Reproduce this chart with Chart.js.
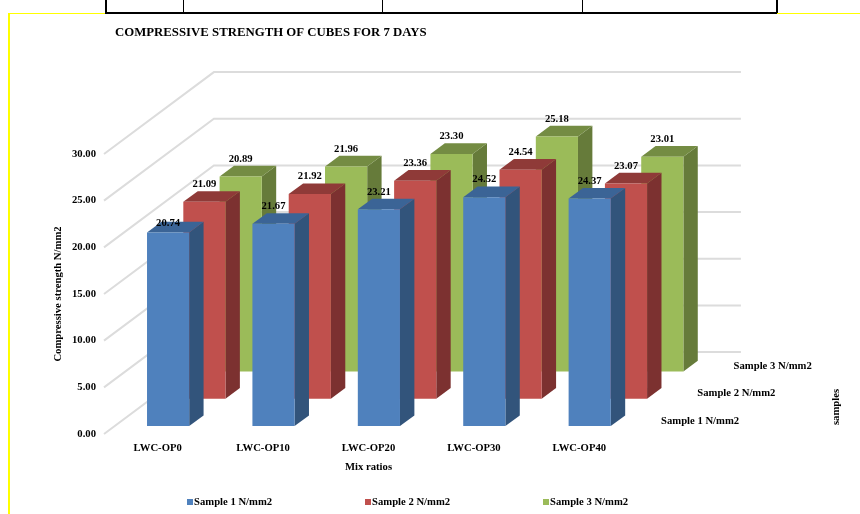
<!DOCTYPE html>
<html>
<head>
<meta charset="utf-8">
<title>Compressive strength of cubes</title>
<script src="https://cdn.jsdelivr.net/npm/chart.js@4"></script>
<style>
  body { margin: 0; background: #fff; width: 860px; height: 514px; overflow: hidden; position: relative; }
  canvas { position: absolute; left: 0; top: 0; }
  .rule { position: absolute; }
  .yellow { background: #ffff00; }
  .black { background: #000; }
</style>
</head>
<body>
<!-- page frame and the foot of the table above the chart -->
<div class="rule yellow" style="left:8px;top:13px;width:2px;height:501px"></div>
<div class="rule yellow" style="left:8px;top:13px;width:852px;height:1px"></div>
<div class="rule black" style="left:105px;top:12px;width:672px;height:2px"></div>
<div class="rule black" style="left:105px;top:0;width:2px;height:13px"></div>
<div class="rule black" style="left:183px;top:0;width:1px;height:13px"></div>
<div class="rule black" style="left:382px;top:0;width:1px;height:13px"></div>
<div class="rule black" style="left:582px;top:0;width:1px;height:13px"></div>
<div class="rule black" style="left:776px;top:0;width:2px;height:13px"></div>
<canvas id="strengthChart" width="860" height="514"></canvas>
<script>
// --- Data ---
const mixRatios = ['LWC-OP0', 'LWC-OP10', 'LWC-OP20', 'LWC-OP30', 'LWC-OP40'];
const sampleNames = ['Sample 1 N/mm2', 'Sample 2 N/mm2', 'Sample 3 N/mm2'];
const sample1 = [20.74, 21.67, 23.21, 24.52, 24.37];
const sample2 = [21.09, 21.92, 23.36, 24.54, 23.07];
const sample3 = [20.89, 21.96, 23.30, 25.18, 23.01];

const frontColors = ['#4F81BD', '#C0504D', '#9BBB59'];
const topColors = ['#3B6496', '#8F3A38', '#748C43'];
const sideColors = ['#32547B', '#7C3130', '#667B3A'];

// --- Depth projection ---
const ROW_DX = 36.3;
const ROW_DY = -27.3;
const ROWS = 3;
const FIRST_ROW_DX = 10.4;
const FIRST_ROW_DY = -8;
const BAR_DX = 14.4;
const BAR_DY = -10.6;
const FONT = '"Liberation Serif", "Times New Roman", serif';
const TEXT_SIZE = 10.67;

function rowOffset(row) {
    return { dx: FIRST_ROW_DX + ROW_DX * row, dy: FIRST_ROW_DY + ROW_DY * row };
}

function fillFace(ctx, color, points) {
    ctx.fillStyle = color;
    ctx.beginPath();
    points.forEach((p, i) => i ? ctx.lineTo(p[0], p[1]) : ctx.moveTo(p[0], p[1]));
    ctx.closePath();
    ctx.fill();
}

// Bars pushed back into their own row, with a side and top face added
class Bar3dController extends Chart.BarController {
    draw() {
        const ctx = this.chart.ctx;
        const off = rowOffset(this.index);
        ctx.save();
        ctx.translate(off.dx, off.dy);
        this.getMeta().data.forEach(bar => {
            const { x, y, base, width } = bar.getProps(['x', 'y', 'base', 'width'], true);
            const right = x + width / 2;
            const left = x - width / 2;
            fillFace(ctx, sideColors[this.index], [
                [right, y], [right + BAR_DX, y + BAR_DY],
                [right + BAR_DX, base + BAR_DY], [right, base]
            ]);
            fillFace(ctx, topColors[this.index], [
                [left, y], [left + BAR_DX, y + BAR_DY],
                [right + BAR_DX, y + BAR_DY], [right, y]
            ]);
        });
        super.draw();
        ctx.restore();
    }
}
Bar3dController.id = 'bar3d';
Bar3dController.defaults = Chart.BarController.defaults;
Bar3dController.overrides = Chart.BarController.overrides;
Chart.register(Bar3dController);

function drawText(ctx, text, x, y, size, align, angle) {
    ctx.save();
    ctx.translate(x, y);
    if (angle) ctx.rotate(angle);
    ctx.font = 'bold ' + size + 'px ' + FONT;
    ctx.fillStyle = '#000';
    ctx.textAlign = align || 'center';
    ctx.textBaseline = 'middle';
    ctx.fillText(text, 0, 0);
    ctx.restore();
}

// --- Walls, behind the bars ---
const wallPlugin = {
    id: 'walls',
    beforeDatasetsDraw(chart) {
        const { ctx, chartArea, scales } = chart;
        const depthX = ROW_DX * ROWS;
        const depthY = ROW_DY * ROWS;
        ctx.save();
        ctx.strokeStyle = '#DCDCDC';
        ctx.lineWidth = 2;
        scales.y.ticks.forEach(tick => {
            const y = scales.y.getPixelForValue(tick.value);
            ctx.beginPath();
            ctx.moveTo(chartArea.left - 1, y);
            ctx.lineTo(chartArea.left + depthX, y + depthY);
            ctx.lineTo(chartArea.right + depthX, y + depthY);
            ctx.stroke();
        });
        ctx.restore();
    }
};

// --- Value labels, depth axis, legend and the remaining titles ---
const labelPlugin = {
    id: 'labels',
    afterDatasetsDraw(chart) {
        const { ctx, chartArea, scales } = chart;
        chart.data.datasets.forEach((ds, row) => {
            const off = rowOffset(row);
            chart.getDatasetMeta(row).data.forEach((bar, i) => {
                // the first front label sits lower than the others, on the bar's top face
                const lift = (row === 0 && i === 0) ? 9 : 17.5;
                drawText(ctx, ds.data[i].toFixed(2), bar.x + off.dx, bar.y + off.dy - lift, TEXT_SIZE);
            });
            drawText(ctx, ds.label, chartArea.right + 29 + ROW_DX * row, scales.y.bottom - 13 + ROW_DY * row, TEXT_SIZE, 'left');
            ctx.fillStyle = frontColors[row];
            ctx.fillRect(187 + 178 * row, 499, 6, 6);
            drawText(ctx, ds.label, 194 + 178 * row, 502, TEXT_SIZE, 'left');
        });
        drawText(ctx, 'COMPRESSIVE STRENGTH OF CUBES FOR 7 DAYS', 115, 33, 12.8, 'left');
        drawText(ctx, 'samples', 836, 407, TEXT_SIZE, 'center', -Math.PI / 2);
    }
};

const tickFont = { family: FONT, size: TEXT_SIZE, weight: 'bold' };

new Chart(document.getElementById('strengthChart'), {
    type: 'bar3d',
    data: {
        labels: mixRatios,
        datasets: [sample1, sample2, sample3].map((values, i) => ({
            label: sampleNames[i],
            data: values,
            backgroundColor: frontColors[i],
            borderWidth: 0,
            clip: false
        }))
    },
    options: {
        responsive: false,
        animation: false,
        layout: { padding: { top: 154, right: 228 } },
        datasets: { bar3d: { grouped: false, categoryPercentage: 1, barPercentage: 0.4 } },
        plugins: { legend: { display: false }, tooltip: { enabled: false } },
        scales: {
            x: {
                grid: { display: false },
                border: { display: false },
                ticks: { color: '#000', font: tickFont, padding: 0, maxRotation: 0 },
                title: {
                    display: true,
                    text: 'Mix ratios',
                    color: '#000',
                    font: tickFont,
                    padding: { bottom: 40 }
                },
                afterFit(scale) { scale.height = 80; }
            },
            y: {
                min: 0,
                max: 30,
                grid: { display: false, drawTicks: false },
                border: { display: false },
                ticks: {
                    stepSize: 5,
                    color: '#000',
                    font: tickFont,
                    padding: 9,
                    callback: value => value.toFixed(2)
                },
                title: {
                    display: true,
                    text: 'Compressive strength N/mm2',
                    color: '#000',
                    font: tickFont,
                    padding: { top: 52 }
                },
                afterFit(scale) { scale.width = 105; }
            }
        }
    },
    plugins: [wallPlugin, labelPlugin]
});
</script>
</body>
</html>
